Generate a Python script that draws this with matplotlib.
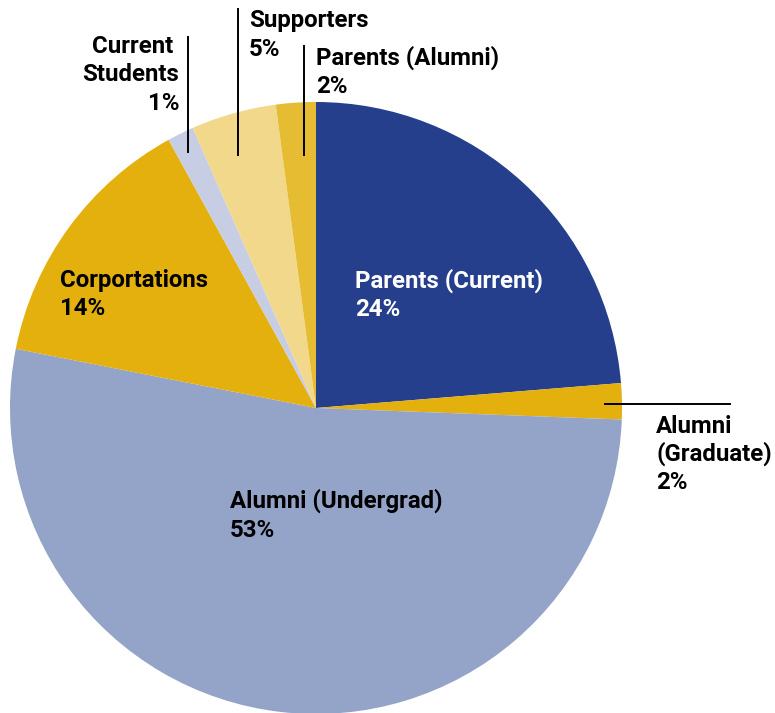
import matplotlib
matplotlib.use("Agg")
import matplotlib.pyplot as plt

categories = ["Parents (Current)", "Alumni (Graduate)", "Alumni (Undergrad)",
              "Corportations", "Current Students", "Supporters", "Parents (Alumni)"]
values = [23.7, 1.9, 52.5, 13.9, 1.4, 4.5, 2.1]
pct_labels = ["24%", "2%", "53%", "14%", "1%", "5%", "2%"]
colors = ["#253f8d", "#e3b00e", "#94a3c8", "#e3b00e", "#c7cde3", "#f2d88a", "#e6bc33"]

W, H = 775, 713
fig = plt.figure(figsize=(W / 100, H / 100), dpi=100)
ax = fig.add_axes([0, 0, 1, 1])

cx, cy, r = 316, H - 408, 306
ax.pie(values, colors=colors, startangle=90, counterclock=False,
       center=(cx, cy), radius=r, wedgeprops=dict(linewidth=0), frame=True)
ax.set_xlim(0, W)
ax.set_ylim(0, H)
ax.axis("off")

FONT = "Roboto"
FS = 17.3

def put(x, ybase, s, color="black", ha="left"):
    ax.text(x, H - ybase, s, fontsize=FS, fontweight="bold", family=FONT,
            color=color, ha=ha, va="baseline")

# Parents (Current)
put(355, 288, categories[0], color="white")
put(355, 316, pct_labels[0], color="white")
# Alumni (Graduate)
put(656, 433, "Alumni")
put(656, 461, "(Graduate)")
put(656, 489, pct_labels[1])
# Alumni (Undergrad)
put(230, 508, categories[2])
put(230, 537, pct_labels[2])
# Corportations
put(60, 287, categories[3])
put(60, 315, pct_labels[3])
# Current Students
put(173, 53, "Current", ha="right")
put(179, 81, "Students", ha="right")
put(179, 110, pct_labels[4], ha="right")
# Supporters
put(249, 27, categories[5])
put(249, 56, pct_labels[5])
# Parents (Alumni)
put(316, 65, categories[6])
put(316, 93, pct_labels[6])

# leader lines
lw = 1.4
ax.plot([188, 188], [H - 37, H - 152], color="black", lw=lw)
ax.plot([238, 238], [H - 9, H - 155], color="black", lw=lw)
ax.plot([304, 304], [H - 46, H - 155], color="black", lw=lw)
ax.plot([605, 730], [H - 404, H - 404], color="black", lw=lw)

fig.savefig("out.png", dpi=100, facecolor="white")
